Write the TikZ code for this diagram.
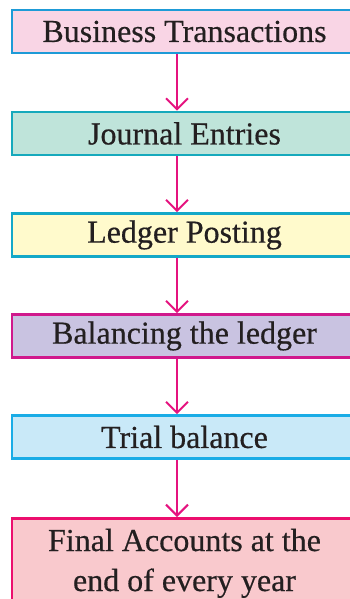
\documentclass[tikz,border=0pt]{standalone}
\usepackage{fontspec}
\setmainfont{Liberation Serif}
\newfontfamily\boxfont{Liberation Serif}[FakeBold=0.5]
\usetikzlibrary{arrows.meta}
\definecolor{b1}{HTML}{1E9BD7}\definecolor{f1}{HTML}{F9D5E5}
\definecolor{b2}{HTML}{16A9BC}\definecolor{f2}{HTML}{BFE4DA}
\definecolor{b3}{HTML}{14A8C8}\definecolor{f3}{HTML}{FFFACC}
\definecolor{b4}{HTML}{D0198C}\definecolor{f4}{HTML}{C9C3E1}
\definecolor{b5}{HTML}{1AACE6}\definecolor{f5}{HTML}{C9E9F8}
\definecolor{b6}{HTML}{EC0F6E}\definecolor{f6}{HTML}{F9C9CD}
\definecolor{arr}{HTML}{E5137F}
\definecolor{txt}{HTML}{231F20}
\begin{document}
\begin{tikzpicture}[x=1pt,y=1pt,
  boxtext/.style={font=\boxfont\fontsize{32}{40}\selectfont, text=txt, align=center},
  stepbox/.style={draw, line width=2.6pt, rectangle, minimum width=345pt, minimum height=43pt, inner sep=0pt, boxtext},
  flow/.style={draw=arr, line width=2pt, -{Straight Barb[length=11pt,width=22pt,line width=2pt]}}]
\useasboundingbox (0,0) rectangle (350,-599);
\begin{scope}
\clip (0,0) rectangle (350,-599);
\node[stepbox, draw=b1, fill=f1] (n1) at (184.5,-31.5) {Business Transactions};
\node[stepbox, draw=b2, fill=f2] (n2) at (184.5,-133.5) {Journal Entries};
\node[stepbox, draw=b3, fill=f3] (n3) at (184.5,-235) {Ledger Posting};
\node[stepbox, draw=b4, fill=f4] (n4) at (184.5,-336) {Balancing the ledger};
\node[stepbox, draw=b5, fill=f5] (n5) at (184.5,-437) {Trial balance};
\node[stepbox, draw=b6, fill=f6, minimum height=100pt, anchor=north] (n6) at (184.5,-517) {};
\node[boxtext, anchor=base] (t6a) at (184.5,-551) {Final Accounts at the};
\node[boxtext, anchor=base] (t6b) at (184.5,-591) {end of every year};
\draw[flow] (n1.south -| 177,0) -- (n2.north -| 177,0);
\draw[flow] (n2.south -| 177,0) -- (n3.north -| 177,0);
\draw[flow] (n3.south -| 177,0) -- (n4.north -| 177,0);
\draw[flow] (n4.south -| 177,0) -- (n5.north -| 177,0);
\draw[flow] (n5.south -| 177,0) -- (n6.north -| 177,0);
\end{scope}
\end{tikzpicture}
\end{document}
